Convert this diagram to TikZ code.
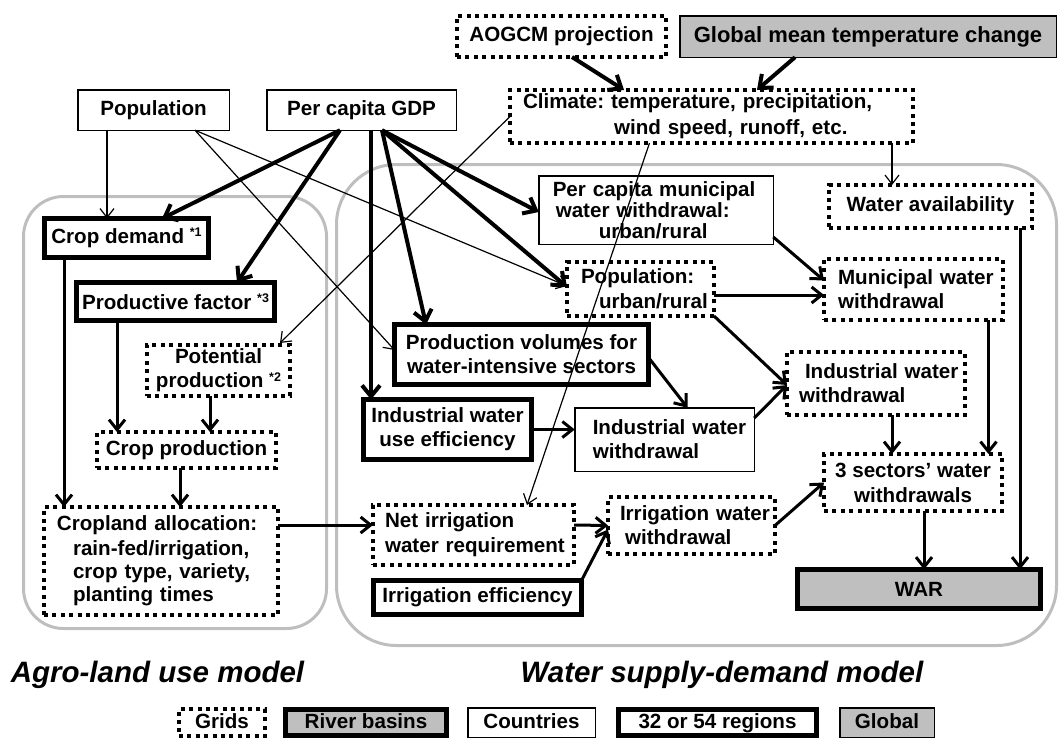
\documentclass[tikz,border=0pt]{standalone}
\usepackage{fontspec}
\setmainfont{Liberation Sans}
\usetikzlibrary{arrows.meta}
\definecolor{lgray}{RGB}{191,191,191}
\definecolor{rgray}{RGB}{190,190,190}
\newcommand\mysup[1]{\raisebox{6.5pt}{\fontsize{12.5}{12.5}\selectfont #1}}
\frenchspacing
\begin{document}
\begin{tikzpicture}[x=1pt,y=-1pt,
 every node/.style={font=\fontsize{20.6}{24}\selectfont\bfseries, inner sep=0pt, outer sep=0pt},
 thinbox/.style={draw, line width=1.5pt},
 thickbox/.style={draw, line width=5pt},
 dotbox/.style={draw, line width=4pt, dash pattern=on 4pt off 4.4pt},
 grayfill/.style={fill=lgray},
 legend/.style={text height=15pt, text depth=4pt},
 container/.style={draw=rgray, line width=3pt},
 thinarr/.style={line width=1.2pt, -{Straight Barb[length=9pt,width=14pt]}},
 midarr/.style={line width=3pt, -{Straight Barb[length=10pt,width=16pt]}},
 thickarr/.style={line width=4pt, -{Straight Barb[length=11pt,width=18pt]}},
 title/.style={font=\fontsize{29.5}{32}\selectfont\bfseries\itshape, anchor=base},
]
\useasboundingbox (0,0) rectangle (1061,739);

% model containers
\draw[container, rounded corners=40pt] (23.5,196.5) rectangle (326.5,628.5);
\draw[container, rounded corners=60pt] (336.5,164.5) rectangle (1056.5,645.5);

% top row
\node[dotbox, minimum width=209pt, minimum height=41pt] (aogcm) at (561.5,36.5) {AOGCM projection};
\node[thinbox, grayfill, minimum width=376.5pt, minimum height=41.5pt, font=\fontsize{22}{24}\selectfont\bfseries] (gmt) at (868,36.5) {Global mean temperature change};
\node[dotbox, minimum width=403pt, minimum height=53pt, align=left, text width=395pt, font=\fontsize{20.6}{26}\selectfont\bfseries] (climate) at (711.5,116.5) {\hspace*{9pt}Climate: temperature, precipitation,\\\hspace*{100pt}wind speed, runoff, etc.};
\node[thinbox, minimum width=151.5pt, minimum height=40.5pt] (pop) at (153.5,110) {Population};
\node[thinbox, minimum width=189.5pt, minimum height=40.5pt] (gdp) at (361.5,110) {Per capita GDP};

% agro-land use model
\node[thickbox, minimum width=164pt, minimum height=39pt] (cropdem) at (126.5,238) {Crop demand \mysup{*1}};
\node[thickbox, minimum width=198pt, minimum height=38pt] (prodfac) at (175.5,301.5) {Productive factor \mysup{*3}};
\node[dotbox, minimum width=143pt, minimum height=51pt, align=center] (potprod) at (218.5,370.5) {Potential\\production \mysup{*2}};
\node[dotbox, minimum width=179pt, minimum height=36pt] (cropprod) at (186.5,450) {Crop production};
\node[dotbox, minimum width=234pt, minimum height=108pt, align=left, text width=226pt, font=\fontsize{20.6}{23}\selectfont\bfseries] (cropland) at (161,561) {\hspace*{9pt}Cropland allocation:\\[2pt]\hspace*{25pt}rain-fed/irrigation,\\\hspace*{25pt}crop type, variety,\\\hspace*{25pt}planting times};

% water supply-demand model
\node[thinbox, minimum width=234.5pt, minimum height=68.5pt, align=left, text width=226.5pt, font=\fontsize{20.6}{21}\selectfont\bfseries] (pcmun) at (656,210) {\hspace*{10pt}Per capita municipal\\\hspace*{13pt}water withdrawal:\\\hspace*{56pt}urban/rural};
\node[dotbox, minimum width=203pt, minimum height=43pt] (wavail) at (930.5,206.5) {Water availability};
\node[dotbox, minimum width=147pt, minimum height=54pt, align=left, text width=139pt, font=\fontsize{20.6}{25}\selectfont\bfseries] (popur) at (640.5,289) {\hspace*{10pt}Population:\\\hspace*{28pt}urban/rural};
\node[dotbox, minimum width=179pt, minimum height=61pt, align=left, text width=171pt] (munww) at (913.5,289.5) {\hspace*{10pt}Municipal water\\\hspace*{10pt}withdrawal};
\node[thickbox, minimum width=254pt, minimum height=60pt, align=center] (prodvol) at (521.5,354.5) {Production volumes for\\water-intensive sectors};
\node[dotbox, minimum width=178pt, minimum height=63pt, align=left, text width=170pt] (indww) at (876,383.5) {\hspace*{14pt}Industrial water\\\hspace*{8pt}withdrawal};
\node[thickbox, minimum width=168pt, minimum height=60pt, align=center] (indeff) at (447.5,429.5) {Industrial water\\use efficiency};
\node[thinbox, minimum width=179.5pt, minimum height=63.5pt, align=left, text width=171.5pt] (indthin) at (664.5,439.5) {\hspace*{14pt}Industrial water\\\hspace*{14pt}withdrawal};
\node[dotbox, minimum width=178pt, minimum height=57pt, align=center, font=\fontsize{20.6}{25}\selectfont\bfseries] (sectors) at (913,482.5) {3 sectors’ water\\withdrawals};
\node[dotbox, minimum width=201pt, minimum height=60pt, align=left, text width=193pt, font=\fontsize{20.6}{25}\selectfont\bfseries] (netirr) at (473.5,535) {\hspace*{8pt}Net irrigation\\\hspace*{8pt}water requirement};
\node[dotbox, minimum width=167pt, minimum height=57pt, align=left, text width=159pt] (irrww) at (691.5,525.5) {\hspace*{8pt}Irrigation water\\\hspace*{13pt}withdrawal};
\node[thickbox, minimum width=208pt, minimum height=34pt] (irreff) at (477.5,597.5) {Irrigation efficiency};
\node[thickbox, grayfill, minimum width=243pt, minimum height=39pt] (war) at (919,589) {WAR};

% titles
\node[title] (agro) at (157.5,682) {Agro-land use model};
\node[title] (wsd) at (722,682) {Water supply-demand model};

% legend
\node[dotbox, legend, minimum width=86pt, minimum height=27pt] (lgrids) at (222,722.5) {Grids};
\node[thickbox, legend, grayfill, minimum width=161pt, minimum height=26pt] (lbasins) at (366,722.5) {River basins};
\node[thinbox, legend, minimum width=127.5pt, minimum height=29.5pt] (lcountries) at (531.5,722.5) {Countries};
\node[thickbox, legend, minimum width=198pt, minimum height=26pt] (lregions) at (717.5,722.5) {32 or 54 regions};
\node[thinbox, legend, grayfill, minimum width=94.5pt, minimum height=29.5pt] (lglobal) at (887,722.5) {Global};

% thin connectors
\draw[thinarr] ([xshift=-46.5pt]pop.south) -- ([xshift=-19.5pt]cropdem.north);
\draw[thinarr] ([xshift=41.5pt]pop.south) -- ([yshift=4.5pt]prodvol.west);
\draw[thinarr] ([xshift=41.5pt]pop.south) -- ([yshift=3pt]popur.west);
\draw[thinarr] (climate.west) -- ([xshift=-10pt,yshift=2pt]potprod.north east);
\draw[thinarr] ([xshift=-62pt]climate.south) -- ([xshift=53.5pt]netirr.north);
\draw[thinarr] ([xshift=180.5pt]climate.south) -- ([xshift=180.5pt]climate.south |- wavail.north);

% thick connectors from GDP and to climate
\draw[thickarr] ([xshift=-21.5pt]gdp.south) -- ([xshift=35.5pt]cropdem.north);
\draw[thickarr] ([xshift=-21.5pt]gdp.south) -- ([xshift=61.5pt]prodfac.north);
\draw[thickarr] ([xshift=9.5pt]gdp.south) -- ([xshift=9.5pt]gdp.south |- indeff.north);
\draw[thickarr] ([xshift=20.5pt]gdp.south) -- ([xshift=-95.5pt]prodvol.north);
\draw[thickarr] ([xshift=20.5pt]gdp.south) -- ([yshift=-2pt]pcmun.west);
\draw[thickarr] ([xshift=20.5pt]gdp.south) -- ([yshift=2pt]popur.west);
\draw[thickarr] ([xshift=10.5pt]aogcm.south) -- ([xshift=-87.5pt]climate.north);
\draw[thickarr] ([xshift=-73pt]gmt.south) -- ([xshift=45.5pt]climate.north);

% medium connectors
\draw[midarr] ([xshift=-62.5pt]cropdem.south) -- ([xshift=-62.5pt]cropdem.south |- cropland.north);
\draw[midarr] ([xshift=-58.5pt]prodfac.south) -- ([xshift=-58.5pt]prodfac.south |- cropprod.north);
\draw[midarr] ([xshift=-8.5pt]potprod.south) -- ([xshift=-8.5pt]potprod.south |- cropprod.north);
\draw[midarr] ([xshift=-6.5pt]cropprod.south) -- ([xshift=-6.5pt]cropprod.south |- cropland.north);
\draw[midarr] ([yshift=36pt]cropland.east) -- ([yshift=36pt]cropland.east -| netirr.west);
\draw[midarr] ([yshift=10pt]netirr.east) -- (irrww.west);
\draw[midarr] (irreff.north east) -- ([yshift=-4pt]irrww.west);
\draw[midarr] (irrww.east) -- (sectors.west);
\draw[midarr] ([yshift=-3pt]prodvol.east) -- ([xshift=23pt]indthin.north);
\draw[midarr] (indeff.east) -- (indeff.east -| indthin.west);
\draw[midarr] ([yshift=21.5pt]indthin.east) -- ([yshift=-1.5pt]indww.west);
\draw[midarr] (popur.south east) -- ([yshift=-1.5pt]indww.west);
\draw[midarr] ([yshift=-6pt]popur.east) -- ([yshift=-6pt]popur.east -| munww.west);
\draw[midarr] ([yshift=-27pt]pcmun.east) -- ([yshift=9pt]munww.west);
\draw[midarr] ([xshift=75pt]munww.south) -- ([xshift=75pt]munww.south |- sectors.north);
\draw[midarr] ([xshift=16pt]indww.south) -- ([xshift=16pt]indww.south |- sectors.north);
\draw[midarr] ([xshift=11pt]sectors.south) -- ([xshift=11pt]sectors.south |- war.north);
\draw[midarr] ([xshift=89.5pt]wavail.south) -- ([xshift=89.5pt]wavail.south |- war.north);
\end{tikzpicture}
\end{document}
